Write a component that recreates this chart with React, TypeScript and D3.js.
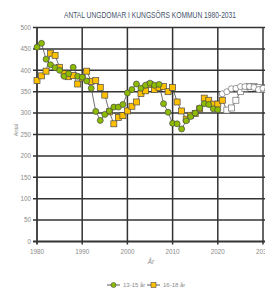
import React from "react";
import * as d3 from "d3";

const years = [
  1980, 1981, 1982, 1983, 1984, 1985, 1986, 1987, 1988, 1989,
  1990, 1991, 1992, 1993, 1994, 1995, 1996, 1997, 1998, 1999,
  2000, 2001, 2002, 2003, 2004, 2005, 2006, 2007, 2008, 2009,
  2010, 2011, 2012, 2013, 2014, 2015, 2016, 2017, 2018, 2019,
  2020, 2021, 2022, 2023, 2024, 2025, 2026, 2027, 2028, 2029,
  2030, 2031,
];
const age13to15 = [
  454, 463, 426, 413, 406, 400, 386, 392, 407, 386,
  384, 375, 358, 304, 283, 297, 305, 314, 314, 320,
  347, 355, 368, 358, 365, 370, 365, 367, 322, 302,
  276, 275, 263, 282, 292, 300, 312, 322, 320, 310,
  308, 345, 350, 357, 358, 362, 362, 362, 360, 355,
  358, 355,
];
const age16to18 = [
  376, 387, 398, 440, 435, 407, 392, 385, 388, 368,
  382, 398, 374, 376, 360, 342, 303, 275, 290, 294,
  305, 316, 326, 346, 352, 367, 355, 360, 362, 350,
  360, 326, 305, 286, 295, 299, 310, 335, 330, 321,
  321, 330, 307, 312, 330, 350, 358, 362, 362, 360,
  356, 360,
];
// first year drawn as a prognosis (white marker)
const prognosisFrom13 = 2021;
const prognosisFrom16 = 2022;
const yTicks = [0, 50, 100, 150, 200, 250, 300, 350, 400, 450, 500];
const xTicks = [1980, 1990, 2000, 2010, 2020, 2030];

const width = 265;
const height = 291;
const font = "'Liberation Sans', Arial, sans-serif";

const App = () => {
  const x = d3.scaleLinear().domain([1980, 2030]).range([37, 263]);
  const y = d3.scaleLinear().domain([0, 500]).range([241.5, 27.5]);

  const line = d3
    .line<number>()
    .x((d, i) => x(years[i]))
    .y((d) => y(d));

  const green = "#8cbb00";
  const gold = "#ffc000";
  const stroke = "#4a4a4a";

  return (
    <div style={{ position: "absolute", left: 0, top: 0, width, height, overflow: "hidden" }}>
      <svg width={width} height={height} style={{ display: "block", background: "#fff" }}>
        <text
          x={150}
          y={18}
          textAnchor="middle"
          fontFamily={font}
          fontSize={8.5}
          fill="#44546a"
          textLength={172}
          lengthAdjust="spacingAndGlyphs"
        >
          ANTAL UNGDOMAR I KUNGSÖRS KOMMUN 1980-2031
        </text>

        {yTicks.map((t) => (
          <g key={t}>
            <line x1={33} x2={width} y1={y(t)} y2={y(t)} stroke="#333" strokeWidth={t === 0 ? 2 : 1.5} />
            <text x={31} y={y(t) + 2.3} textAnchor="end" fontFamily={font} fontSize={6.3} fill="#8a8a8a">
              {t}
            </text>
          </g>
        ))}
        {xTicks.map((t) => (
          <g key={t}>
            <line x1={x(t)} x2={x(t)} y1={y(500)} y2={y(0) + 3} stroke="#333" strokeWidth={t === 1980 ? 1.8 : 1.5} />
            <text x={x(t)} y={254} textAnchor="middle" fontFamily={font} fontSize={6.3} fill="#8a8a8a">
              {t}
            </text>
          </g>
        ))}

        <text
          transform={`translate(18,130) rotate(-90)`}
          textAnchor="middle"
          fontFamily={font}
          fontSize={5.5}
          fill="#8a8a8a"
        >
          Antal
        </text>
        <text x={151} y={264} textAnchor="middle" fontFamily={font} fontSize={6.3} fontStyle="italic" fill="#8a8a8a">
          År
        </text>

        <path d={line(age13to15) ?? ""} fill="none" stroke={stroke} strokeWidth={0.8} />
        <path d={line(age16to18) ?? ""} fill="none" stroke={stroke} strokeWidth={0.8} />

        {age16to18.map((v, i) => (
          <rect
            key={`s${i}`}
            x={x(years[i]) - 3}
            y={y(v) - 3}
            width={6}
            height={6}
            fill={years[i] >= prognosisFrom16 ? "#fff" : gold}
            stroke={years[i] >= prognosisFrom16 ? "#707070" : stroke}
            strokeWidth={0.7}
          />
        ))}
        {age13to15.map((v, i) => (
          <circle
            key={`c${i}`}
            cx={x(years[i])}
            cy={y(v)}
            r={3}
            fill={years[i] >= prognosisFrom13 ? "#fff" : green}
            stroke={years[i] >= prognosisFrom13 ? "#707070" : stroke}
            strokeWidth={0.7}
          />
        ))}

        <g fontFamily={font} fontSize={6} fill="#8a8a8a">
          <line x1={107} x2={120} y1={285} y2={285} stroke={stroke} strokeWidth={0.9} />
          <circle cx={113.5} cy={285} r={2.5} fill={green} stroke={stroke} strokeWidth={0.6} />
          <text x={123} y={287}>13-15 år</text>
          <line x1={147} x2={160} y1={285} y2={285} stroke={stroke} strokeWidth={0.9} />
          <rect x={151} y={282.5} width={5} height={5} fill={gold} stroke={stroke} strokeWidth={0.6} />
          <text x={163} y={287}>16-18 år</text>
        </g>
      </svg>
    </div>
  );
};

export default App;
